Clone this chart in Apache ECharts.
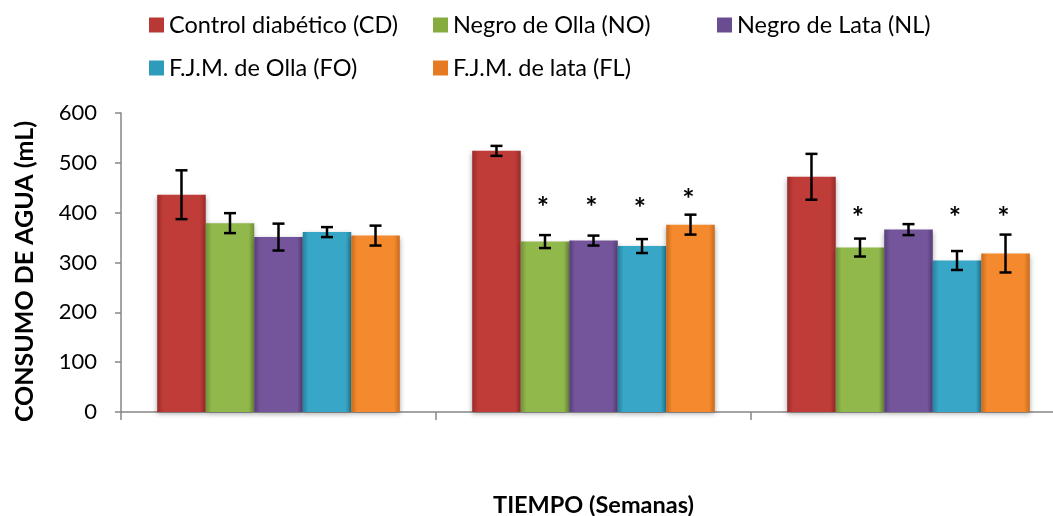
<!DOCTYPE html>
<html>
<head>
<meta charset="utf-8">
<script src="https://cdn.jsdelivr.net/npm/echarts@6/dist/echarts.min.js"></script>
<style>
html,body{margin:0;padding:0;background:#fff;}
#chart{width:1053px;height:516px;}
</style>
</head>
<body>
<div id="chart"></div>
<script>
// ---- data ----
const categories = ['', '', ''];
const seriesNames = ['Control diabético (CD)', 'Negro de Olla (NO)', 'Negro de Lata (NL)', 'F.J.M. de Olla (FO)', 'F.J.M. de lata (FL)'];
const cdValues = [436, 524, 472];
const noValues = [379, 342, 330];
const nlValues = [351, 344, 366];
const foValues = [361, 333, 304];
const flValues = [354, 376, 318];
const cdErrors = [49, 10, 46];
const noErrors = [20, 13, 18];
const nlErrors = [27, 10, 11];
const foErrors = [10, 14, 19];
const flErrors = [20, 20, 38];
// height (in mL units) where the significance asterisk sits; null = none
const cdStars = [null, null, null];
const noStars = [null, 422, 402];
const nlStars = [null, 422, null];
const foStars = [null, 421, 402];
const flStars = [null, 438, 402];
const yTicks = [0, 100, 200, 300, 400, 500, 600];

const values = [cdValues, noValues, nlValues, foValues, flValues];
const errors = [cdErrors, noErrors, nlErrors, foErrors, flErrors];
const stars = [cdStars, noStars, nlStars, foStars, flStars];

const palette = [
  ['#9a2a28', '#bf3c39', '#9a2a28'],
  ['#71913a', '#91b84a', '#71913a'],
  ['#553e78', '#74559c', '#553e78'],
  ['#25819c', '#38a7c7', '#25819c'],
  ['#c96a1c', '#f48a2d', '#c96a1c']
];
const legendIcon = ['#b83835', '#86ac3f', '#6a4c91', '#2f9bbb', '#e57a22'];

const GAP = 0.23; // barCategoryGap
const N = 5;
const FONT = 'Lato';

function barX(api, cat, k) {
  const band = api.size([1, 0])[0];
  const groupW = band * (1 - GAP);
  const bw = groupW / N;
  return api.coord([cat, 0])[0] - groupW / 2 + bw * (k + 0.5);
}

const series = [];
seriesNames.forEach((name, k) => {
  const c = palette[k];
  series.push({
    name: name,
    type: 'bar',
    data: values[k],
    barGap: '0%',
    barCategoryGap: (GAP * 100) + '%',
    itemStyle: {
      color: {
        type: 'linear', x: 0, y: 0, x2: 1, y2: 0,
        colorStops: [
          { offset: 0, color: c[0] },
          { offset: 0.12, color: c[1] },
          { offset: 0.88, color: c[1] },
          { offset: 1, color: c[2] }
        ]
      },
      shadowColor: 'rgba(0,0,0,0.35)',
      shadowBlur: 5,
      shadowOffsetY: 2
    },
    z: 2
  });
});
seriesNames.forEach((name, k) => {
  series.push({
    name: 'err' + k,
    type: 'custom',
    z: 5,
    data: values[k].map((v, i) => [i, v, errors[k][i]]),
    encode: { x: 0, y: 1 },
    renderItem: function (params, api) {
      const cat = api.value(0);
      const v = api.value(1);
      const e = api.value(2);
      const x = barX(api, cat, k);
      const yt = api.coord([cat, v + e])[1];
      const yb = api.coord([cat, v - e])[1];
      const hw = 6;
      const st = { stroke: '#000', lineWidth: 2.5 };
      return {
        type: 'group',
        children: [
          { type: 'line', shape: { x1: x, y1: yt, x2: x, y2: yb }, style: st },
          { type: 'line', shape: { x1: x - hw, y1: yt, x2: x + hw, y2: yt }, style: st },
          { type: 'line', shape: { x1: x - hw, y1: yb, x2: x + hw, y2: yb }, style: st }
        ]
      };
    }
  });
});
seriesNames.forEach((name, k) => {
  const d = [];
  stars[k].forEach((s, i) => { if (s !== null) d.push([i, s]); });
  series.push({
    name: 'star' + k,
    type: 'custom',
    z: 6,
    data: d,
    encode: { x: 0, y: 1 },
    renderItem: function (params, api) {
      const cat = api.value(0);
      const x = barX(api, cat, k) - 2;
      const y = api.coord([cat, api.value(1)])[1];
      return {
        type: 'text',
        x: x,
        y: y + 6,
        style: { text: '*', font: 'bold 29px ' + FONT, fill: '#000', align: 'center', verticalAlign: 'middle' }
      };
    }
  });
});

const legendPos = [[144, 8], [428, 8], [712, 8], [144, 51], [428, 51]];
const legends = seriesNames.map((n, k) => ({
  data: [{ name: n, itemStyle: { color: legendIcon[k] } }],
  left: legendPos[k][0],
  top: legendPos[k][1],
  icon: 'rect',
  itemWidth: 15,
  itemHeight: 15,
  selectedMode: false,
  textStyle: { fontFamily: FONT, fontSize: 23.5, color: '#000' }
}));

const chart = echarts.init(document.getElementById('chart'));
chart.setOption({
  animation: false,
  backgroundColor: '#fff',
  legend: legends,
  grid: { left: 121, right: -13, top: 113, bottom: 104, containLabel: false, outerBoundsMode: 'none' },
  xAxis: {
    type: 'category',
    data: categories,
    name: 'TIEMPO (Semanas)',
    nameLocation: 'middle',
    nameGap: 81,
    nameTextStyle: { fontFamily: FONT, fontSize: 23.5, fontWeight: 'bold', color: '#000' },
    axisLine: { lineStyle: { color: '#868686', width: 1.5 } },
    axisTick: { show: true, length: 8, lineStyle: { color: '#868686', width: 1.5 } },
    axisLabel: { show: false }
  },
  yAxis: {
    type: 'value',
    min: yTicks[0],
    max: yTicks[yTicks.length - 1],
    interval: 100,
    name: 'CONSUMO DE AGUA (mL)',
    nameLocation: 'middle',
    nameGap: 84,
    nameTextStyle: { fontFamily: FONT, fontSize: 25, fontWeight: 'bold', color: '#000', padding: [0, 18, 0, 0] },
    axisLine: { show: true, lineStyle: { color: '#868686', width: 1.5 } },
    axisTick: { show: true, length: 6, lineStyle: { color: '#868686', width: 1.5 } },
    axisLabel: { fontFamily: FONT, fontSize: 22, color: '#000', margin: 24 },
    splitLine: { show: false }
  },
  series: series
});
</script>
</body>
</html>
